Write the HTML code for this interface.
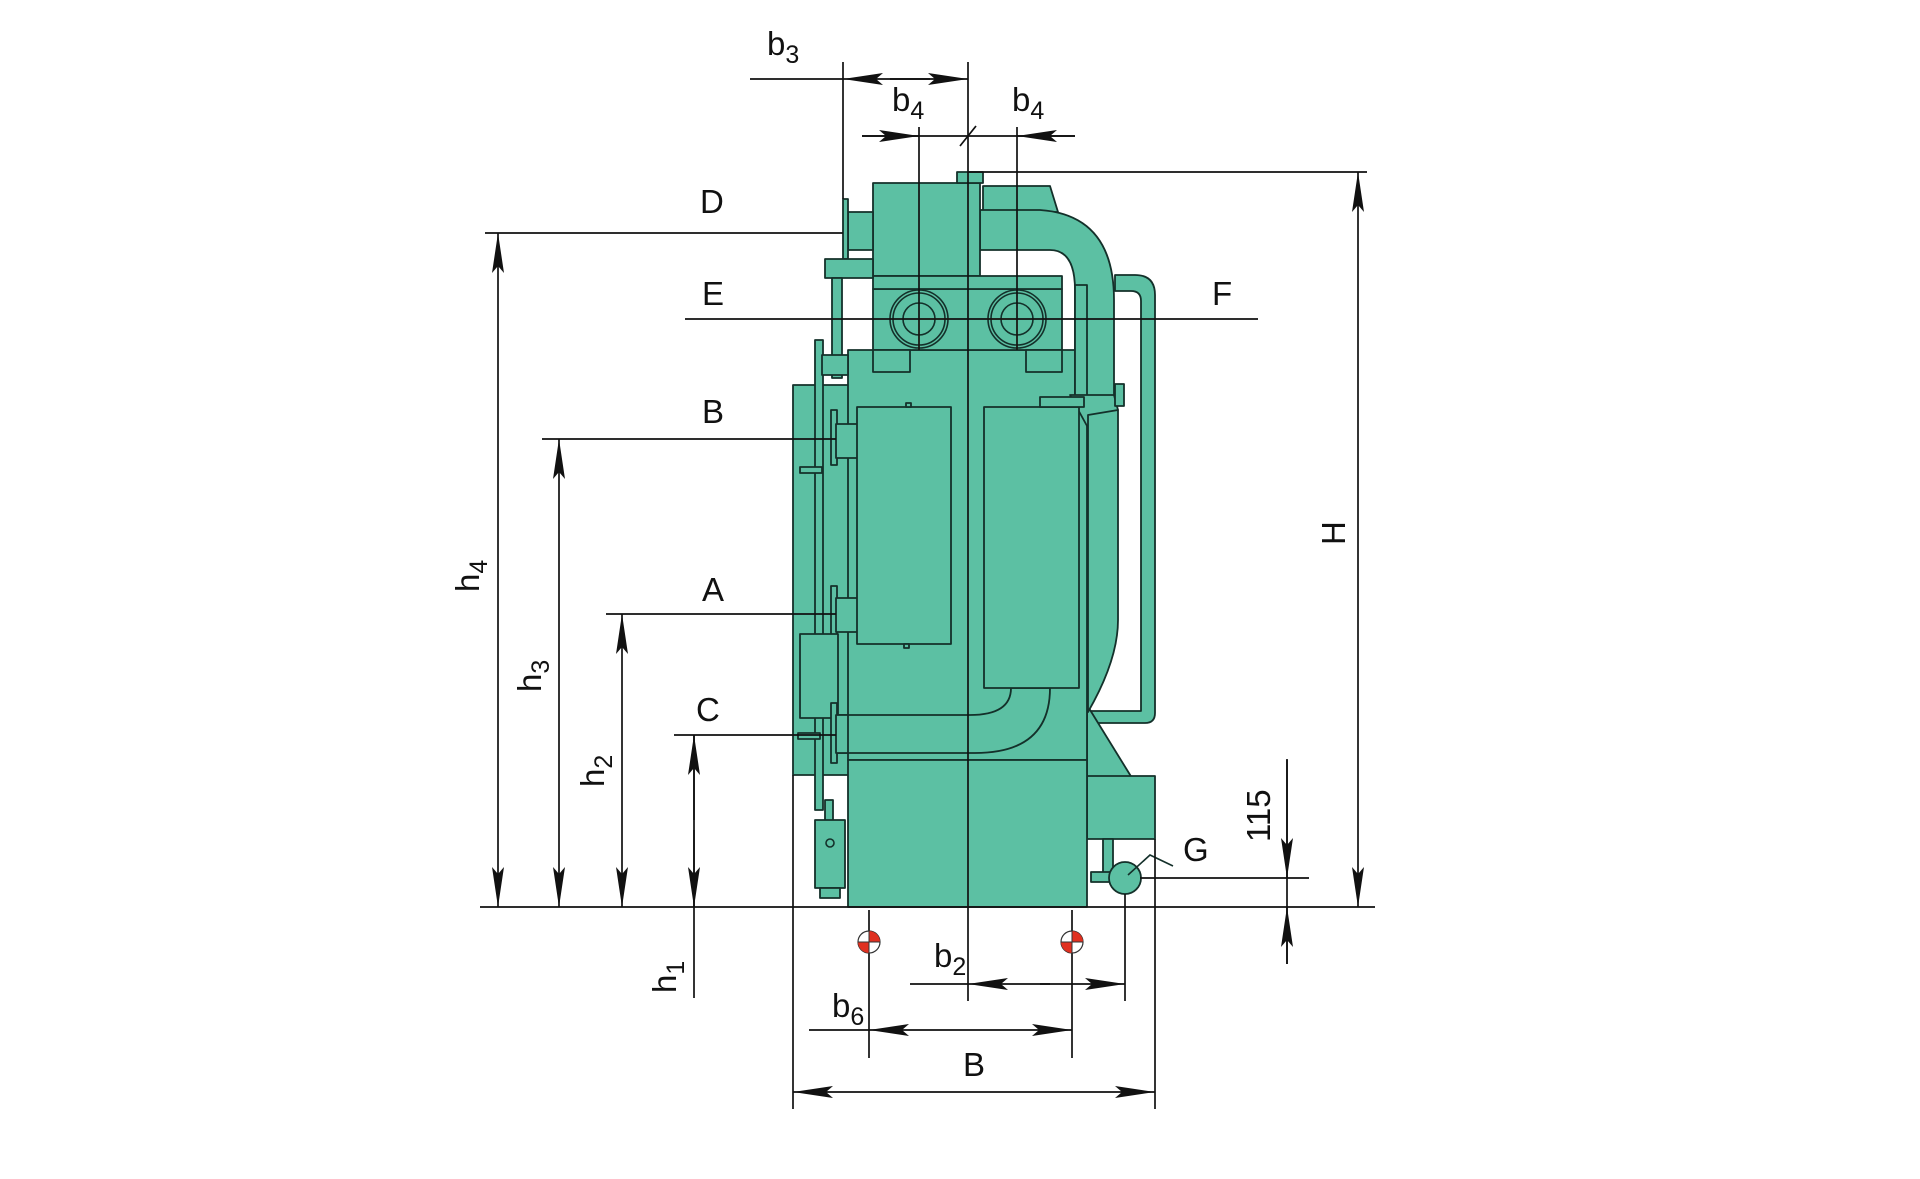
<!DOCTYPE html>
<html><head><meta charset="utf-8"><style>
html,body{margin:0;padding:0;background:#fff;}
svg{display:block;}
text{font-family:"Liberation Sans",sans-serif;fill:#111;}
</style></head><body>
<svg width="1920" height="1179" viewBox="0 0 1920 1179" xmlns="http://www.w3.org/2000/svg">
<defs>
<marker id="ar" viewBox="0 0 40 14" refX="40" refY="7" markerWidth="40" markerHeight="14" markerUnits="userSpaceOnUse" orient="auto-start-reverse">
<path d="M0,1 L40,7 L0,13 L7,7 Z" fill="#111"/>
</marker>
</defs>
<g fill="#5cc0a3" stroke="#14302a" stroke-width="1.8" stroke-linejoin="round">
<path d="M1115,275 L1135,275 Q1155,275 1155,295 L1155,713 Q1155,723 1145,723 L1088,723 L1088,711 L1141,711 L1141,301 Q1141,291 1131,291 L1115,291 Z"/>
<path d="M1087,705 L1132,778 L1087,778 Z"/>
<rect x="1087" y="776" width="68" height="63"/>
<rect x="1103" y="839" width="10" height="40"/>
<path d="M1091,872 L1112,872 L1112,882 L1091,882 Z"/>
<rect x="793" y="385" width="57" height="390"/>
<rect x="848" y="350" width="239" height="410"/>
<rect x="848" y="760" width="239" height="147"/>
<path d="M836,715 L970,715 Q1011,715 1011,688 L1050,688 Q1050,753 975,753 L836,753 Z"/>
<path d="M983,186 L1050,186 L1058,212 L983,212 Z"/>
<path d="M980,210 L1040,210 Q1114,215 1114,300 L1114,400 L1075,400 L1075,290 Q1075,250 1050,250 L980,250 Z"/>
<rect x="1075" y="285" width="12" height="120"/>
<path d="M1070,395 L1114,395 L1118,410 L1092,435 Z"/>
<rect x="1115" y="384" width="9" height="22"/>
<path d="M1088,415 L1118,410 L1118,620 Q1118,660 1088,712 Z"/>
<rect x="873" y="183" width="107" height="93"/>
<rect x="957" y="172" width="26" height="11"/>
<rect x="873" y="289" width="189" height="61"/>
<rect x="873" y="276" width="189" height="13"/>
<rect x="873" y="350" width="37" height="22"/>
<rect x="1026" y="350" width="36" height="22"/>
<rect x="848" y="212" width="25" height="38"/>
<rect x="843" y="199" width="5" height="60"/>
<rect x="825" y="259" width="48" height="19"/>
<rect x="832" y="278" width="10" height="100"/>
<rect x="815" y="340" width="8" height="470"/>
<rect x="822" y="355" width="26" height="20"/>
<rect x="800" y="467" width="22" height="6"/>
<rect x="831" y="410" width="6" height="55"/>
<rect x="836" y="424" width="22" height="34"/>
<rect x="831" y="586" width="6" height="55"/>
<rect x="836" y="598" width="22" height="34"/>
<rect x="800" y="634" width="38" height="84"/>
<rect x="831" y="703" width="6" height="60"/>
<rect x="836" y="715" width="12" height="38"/>
<rect x="798" y="733" width="22" height="6"/>
<rect x="825" y="800" width="8" height="40"/>
<rect x="815" y="820" width="30" height="68"/>
<rect x="820" y="888" width="20" height="10"/>
<rect x="857" y="407" width="94" height="237"/>
<rect x="984" y="407" width="95" height="281"/>
<rect x="1040" y="397" width="44" height="10"/>
<rect x="906" y="403" width="5" height="4"/>
<rect x="904" y="644" width="5" height="4"/>
<circle cx="1125" cy="878" r="16"/>
</g>
<g fill="none" stroke="#14302a" stroke-width="1.6">
<circle cx="919" cy="319" r="29"/><circle cx="919" cy="319" r="26"/><circle cx="919" cy="319" r="16"/>
<circle cx="1017" cy="319" r="29"/><circle cx="1017" cy="319" r="26"/><circle cx="1017" cy="319" r="16"/>
<circle cx="830" cy="843" r="4"/>
<path d="M1128,875 L1150,855 L1173,866"/>
</g>
<g stroke="#e39a2a" stroke-width="1.2">
<path d="M919,319 H950 M919,319 V350 M1017,319 H986 M1017,319 V350"/>
</g>
<g stroke="#111" stroke-width="1.7" fill="none">
<path d="M968,62 V1001"/>
<path d="M843,62 V199"/>
<path d="M919,127 V350 M1017,127 V350"/>
<path d="M750,79 H843"/>
<path d="M862,136 H968 M968,136 H1075"/>
<path d="M960,146 L976,126"/>
<path d="M968,172 H1367"/>
<path d="M485,233 H843"/>
<path d="M685,319 H1258"/>
<path d="M542,439 H836"/>
<path d="M606,614 H836"/>
<path d="M674,735 H836"/>
<path d="M480,907 H1375"/>
<path d="M1140,878 H1309"/>
<path d="M793,775 V1109 M1155,839 V1109 M1125,894 V1001 M869,910 V1058 M1072,910 V1058"/>
<path d="M694,735 V998"/>
<path d="M1287,759 V964"/>
<path d="M910,984 H968"/>
<path d="M809,1030 H869"/>
</g>
<g stroke="#111" stroke-width="1.7" fill="none" marker-end="url(#ar)">
<path d="M930,79 H843"/><path d="M890,79 H968"/>
<path d="M862,136 H919"/><path d="M1075,136 H1017"/>
<path d="M1358,500 V172"/><path d="M1358,500 V907"/>
<path d="M498,560 V233"/><path d="M498,560 V907"/>
<path d="M559,660 V439"/><path d="M559,660 V907"/>
<path d="M622,760 V614"/><path d="M622,760 V907"/>
<path d="M694,820 V735"/><path d="M694,830 V907"/>
<path d="M1287,760 V878"/><path d="M1287,964 V907"/>
<path d="M1050,984 H968"/><path d="M1040,984 H1125"/>
<path d="M970,1030 H869"/><path d="M970,1030 H1072"/>
<path d="M975,1092 H793"/><path d="M975,1092 H1155"/>
</g>
<g>
<circle cx="869" cy="942" r="11" fill="#fff" stroke="#333" stroke-width="1.2"/>
<path d="M869,931 A11,11 0 0 1 880,942 L869,942 Z" fill="#e03020"/>
<path d="M869,953 A11,11 0 0 1 858,942 L869,942 Z" fill="#e03020"/>
<path d="M858,942 H880 M869,931 V953" stroke="#333" stroke-width="1"/>
<circle cx="1072" cy="942" r="11" fill="#fff" stroke="#333" stroke-width="1.2"/>
<path d="M1072,931 A11,11 0 0 1 1083,942 L1072,942 Z" fill="#e03020"/>
<path d="M1072,953 A11,11 0 0 1 1061,942 L1072,942 Z" fill="#e03020"/>
<path d="M1061,942 H1083 M1072,931 V953" stroke="#333" stroke-width="1"/>
</g>
<g font-size="33">
<text x="700" y="213">D</text>
<text x="702" y="305">E</text>
<text x="1212" y="305">F</text>
<text x="702" y="423">B</text>
<text x="702" y="601">A</text>
<text x="696" y="721">C</text>
<text x="1183" y="861">G</text>
<text x="963" y="1076">B</text>
<text x="767" y="55">b<tspan font-size="25" dy="8">3</tspan></text>
<text x="892" y="111">b<tspan font-size="25" dy="8">4</tspan></text>
<text x="1012" y="111">b<tspan font-size="25" dy="8">4</tspan></text>
<text x="934" y="967">b<tspan font-size="25" dy="8">2</tspan></text>
<text x="832" y="1017">b<tspan font-size="25" dy="8">6</tspan></text>
<text transform="translate(1345,545) rotate(-90)">H</text>
<text transform="translate(1270,842) rotate(-90)">115</text>
<text transform="translate(479,592) rotate(-90)">h<tspan font-size="25" dy="8">4</tspan></text>
<text transform="translate(541,692) rotate(-90)">h<tspan font-size="25" dy="8">3</tspan></text>
<text transform="translate(604,787) rotate(-90)">h<tspan font-size="25" dy="8">2</tspan></text>
<text transform="translate(676,993) rotate(-90)">h<tspan font-size="25" dy="8">1</tspan></text>
</g>
</svg>
</body></html>
